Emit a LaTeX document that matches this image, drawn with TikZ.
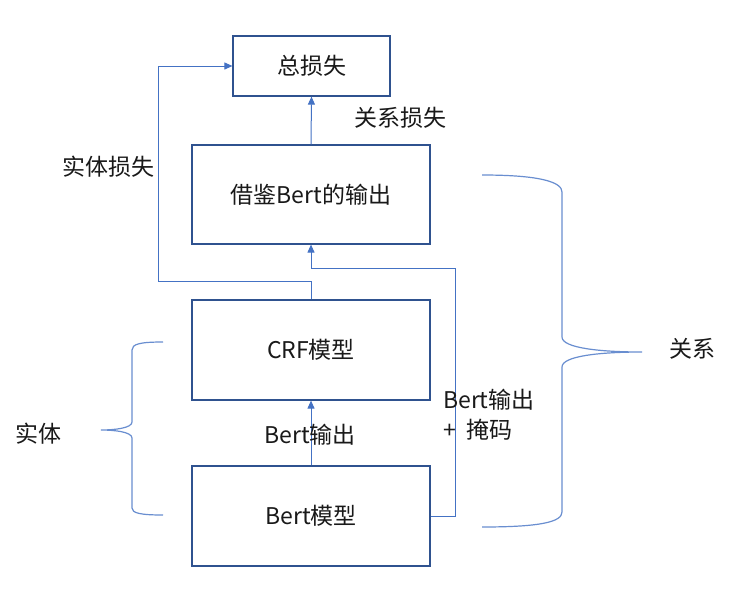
\documentclass[tikz,border=0pt]{standalone}
\usepackage{fontspec}
\setmainfont{Noto Sans CJK SC}
\usetikzlibrary{arrows.meta}
\definecolor{boxblue}{RGB}{47,82,143}
\definecolor{linblue}{RGB}{68,114,196}
\begin{document}
\begin{tikzpicture}[x=1pt,y=-1pt,
  every node/.style={font=\fontsize{23}{30}\selectfont, text=black!90},
  blk/.style={draw=boxblue, line width=1.2pt, inner sep=0pt},
  arr/.style={draw=linblue, line width=1pt, -{Triangle[length=8pt,width=7pt]}},
  brace/.style={draw=linblue!80, line width=1.2pt},
  lbl/.style={inner sep=0pt}]
\useasboundingbox (0,0) rectangle (730,592);
\fill[white] (0,0) rectangle (730,592);
\node[blk, minimum width=157pt, minimum height=60pt] (total) at (311.5,66) {总损失};
\node[blk, minimum width=238pt, minimum height=99pt] (borrow) at (311,194.5) {借鉴Bert的输出};
\node[blk, minimum width=238pt, minimum height=100pt] (crf) at (311,350) {CRF模型};
\node[blk, minimum width=238pt, minimum height=100pt] (bert) at (311,516) {Bert模型};
\coordinate (el) at (158,281);
\coordinate (rl) at (455,268);
\draw[arr] (borrow.north) -- (total.south);
\draw[arr] (crf.north) |- (el) |- (total.west);
\draw[arr] (bert.north) -- (crf.south);
\draw[arr] (bert.east) -| (rl) -| (borrow.south);
\node[lbl] (rloss) at (400,118) {关系损失};
\node[lbl] (eloss) at (108,167) {实体损失};
\node[lbl] (bout) at (310,435) {Bert输出};
\node[lbl, anchor=west, align=left] (bmask) at (443,415) {Bert输出\\+\hspace{0.45em}掩码};
\node[lbl] (ent) at (39,434) {实体};
\node[lbl] (rel) at (692,349) {关系};
\draw[brace] (163,342) .. controls (140,342) and (132,344) .. (132,350) -- (132,422)
  .. controls (132,428) and (115,430) .. (101,430)
  .. controls (115,430) and (132,432) .. (132,438) -- (132,508)
  .. controls (132,513) and (140,515) .. (163,515);
\draw[brace] (482,175) .. controls (540,175) and (562,182) .. (562,192) -- (562,337)
  .. controls (562,348) and (600,352) .. (642,352)
  .. controls (600,352) and (562,356) .. (562,367) -- (562,512)
  .. controls (562,522) and (540,527) .. (482,527);
\end{tikzpicture}
\end{document}
